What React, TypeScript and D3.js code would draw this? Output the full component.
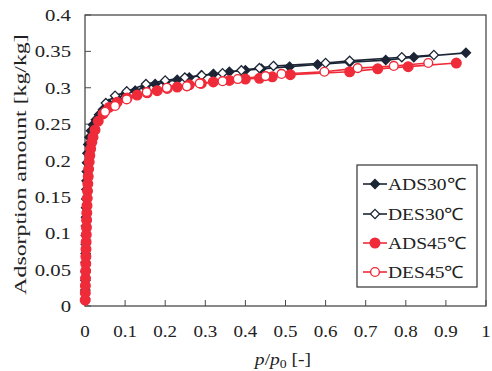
import React from "react";
import * as d3 from "d3";

// relative pressure p/p0 and uptake [kg/kg]
const ads30X = [0.0005, 0.0008, 0.001, 0.0012, 0.0014, 0.0016, 0.0018, 0.002, 0.0022, 0.0025, 0.0028, 0.0031, 0.0035, 0.004, 0.0045, 0.005, 0.006, 0.008, 0.011, 0.015, 0.02, 0.027, 0.035, 0.045, 0.06, 0.08, 0.1, 0.125, 0.15, 0.175, 0.2, 0.23, 0.26, 0.29, 0.32, 0.36, 0.4, 0.44, 0.51, 0.58, 0.66, 0.75, 0.82, 0.95];
const ads30Y = [0.01, 0.022, 0.035, 0.047, 0.06, 0.072, 0.085, 0.097, 0.11, 0.122, 0.135, 0.147, 0.16, 0.172, 0.185, 0.197, 0.21, 0.222, 0.232, 0.241, 0.249, 0.256, 0.263, 0.27, 0.278, 0.285, 0.291, 0.296, 0.301, 0.305, 0.308, 0.311, 0.314, 0.317, 0.319, 0.322, 0.324, 0.326, 0.329, 0.332, 0.335, 0.338, 0.342, 0.348];

const des30X = [0.87, 0.79, 0.66, 0.6, 0.47, 0.435, 0.39, 0.343, 0.291, 0.249, 0.2, 0.152, 0.104, 0.075, 0.052];
const des30Y = [0.345, 0.342, 0.337, 0.334, 0.33, 0.327, 0.324, 0.32, 0.317, 0.314, 0.31, 0.305, 0.295, 0.289, 0.279];

const ads45X = [0.0005, 0.0008, 0.001, 0.0013, 0.0016, 0.0019, 0.0022, 0.0025, 0.0028, 0.0032, 0.0036, 0.004, 0.0045, 0.005, 0.0056, 0.0063, 0.007, 0.008, 0.009, 0.0105, 0.012, 0.014, 0.017, 0.02, 0.025, 0.033, 0.045, 0.06, 0.08, 0.105, 0.13, 0.155, 0.18, 0.205, 0.23, 0.26, 0.29, 0.32, 0.36, 0.4, 0.435, 0.467, 0.512, 0.66, 0.73, 0.806, 0.926];
const ads45Y = [0.008, 0.018, 0.028, 0.038, 0.048, 0.058, 0.068, 0.078, 0.088, 0.098, 0.108, 0.118, 0.128, 0.138, 0.148, 0.158, 0.168, 0.178, 0.188, 0.198, 0.207, 0.216, 0.225, 0.232, 0.242, 0.254, 0.264, 0.273, 0.28, 0.286, 0.29, 0.293, 0.296, 0.299, 0.301, 0.304, 0.306, 0.308, 0.31, 0.312, 0.313, 0.315, 0.318, 0.322, 0.326, 0.329, 0.334];

const des45X = [0.856, 0.77, 0.68, 0.597, 0.49, 0.45, 0.381, 0.343, 0.286, 0.254, 0.204, 0.154, 0.104, 0.075, 0.05];
const des45Y = [0.334, 0.33, 0.327, 0.322, 0.319, 0.316, 0.312, 0.309, 0.306, 0.302, 0.3, 0.294, 0.284, 0.275, 0.267];

const xTicks = [0, 0.1, 0.2, 0.3, 0.4, 0.5, 0.6, 0.7, 0.8, 0.9, 1];
const yTicks = [0, 0.05, 0.1, 0.15, 0.2, 0.25, 0.3, 0.35, 0.4];

const DARK = "#1c2536";
const RED = "#ef2b3a";
const FONT = "Liberation Serif, Times New Roman, serif";

const series = [
  { name: "ADS30℃", xs: ads30X, ys: ads30Y, color: DARK, shape: "diamond", open: false },
  { name: "DES30℃", xs: des30X, ys: des30Y, color: DARK, shape: "diamond", open: true },
  { name: "ADS45℃", xs: ads45X, ys: ads45Y, color: RED, shape: "circle", open: false },
  { name: "DES45℃", xs: des45X, ys: des45Y, color: RED, shape: "circle", open: true },
];

const W = 492,
  H = 371;

function Marker({ cx, cy, shape, color, open }: any) {
  const fill = open ? "#fff" : color;
  if (shape === "diamond") {
    const r = 4.6;
    return (
      <path
        d={`M${cx},${cy - r}L${cx + r},${cy}L${cx},${cy + r}L${cx - r},${cy}Z`}
        fill={fill}
        stroke={color}
        strokeWidth={1.3}
      />
    );
  }
  return <circle cx={cx} cy={cy} r={open ? 4.4 : 4.8} fill={fill} stroke={color} strokeWidth={1.4} />;
}

export default function App() {
  const x = d3.scaleLinear().domain([0, 1]).range([85, 486]);
  const y = d3.scaleLinear().domain([0, 0.4]).range([306, 15]);

  const line = d3
    .line<[number, number]>()
    .x((d) => x(d[0]))
    .y((d) => y(d[1]));

  const [x0, x1] = x.range();
  const [y0, y1] = y.range();

  // legend rows
  const legY = [184, 214, 243, 272];

  return (
    <svg
      width={W}
      height={H}
      style={{ position: "absolute", left: 0, top: 0, background: "#fff", fontFamily: FONT }}
    >
      {/* frame */}
      <rect x={x0} y={y1} width={x1 - x0} height={y0 - y1} fill="none" stroke="#4a4a4a" strokeWidth={1.3} />

      {/* ticks (inward) */}
      {xTicks.map((t) => (
        <g key={"x" + t}>
          <line x1={x(t)} x2={x(t)} y1={y0} y2={y0 - 6} stroke="#4a4a4a" strokeWidth={1} />
          <text
            transform={`translate(${x(t)},337) scale(1.12,1)`}
            textAnchor="middle"
            fontSize={17}
            fill="#222"
          >
            {t}
          </text>
        </g>
      ))}
      {yTicks.map((t) => (
        <g key={"y" + t}>
          <line x1={x0} x2={x0 + 6} y1={y(t)} y2={y(t)} stroke="#4a4a4a" strokeWidth={1} />
          <text
            transform={`translate(71,${y(t) + 6}) scale(1.22,1)`}
            textAnchor="end"
            fontSize={17}
            fill="#222"
          >
            {t}
          </text>
        </g>
      ))}

      {/* axis titles */}
      <text
        transform={`translate(26,${(y0 + y1) / 2 + 4}) rotate(-90) scale(1.4,1)`}
        textAnchor="middle"
        fontSize={17}
        fill="#222"
      >
        Adsorption amount [kg/kg]
      </text>
      <text transform={`translate(283,365) scale(1.15,1)`} textAnchor="middle" fontSize={17} fill="#222">
        <tspan fontStyle="italic">p</tspan>
        <tspan>/</tspan>
        <tspan fontStyle="italic">p</tspan>
        <tspan fontSize={12} dy={3}>0</tspan>
        <tspan dy={-3}> [-]</tspan>
      </text>

      {/* series */}
      {series.map((s) => {
        const pts = s.xs.map((v, i) => [v, s.ys[i]] as [number, number]);
        return (
          <g key={s.name}>
            <path d={line(pts) || ""} fill="none" stroke={s.color} strokeWidth={1.6} />
            {pts.map((p, i) => (
              <Marker key={i} cx={x(p[0])} cy={y(p[1])} shape={s.shape} color={s.color} open={s.open} />
            ))}
          </g>
        );
      })}

      {/* legend */}
      <rect x={357} y={165} width={120} height={122} fill="#fff" stroke="#333" strokeWidth={1.2} />
      {series.map((s, i) => (
        <g key={"leg" + s.name}>
          <line x1={363} x2={387} y1={legY[i]} y2={legY[i]} stroke={s.color} strokeWidth={1.6} />
          <Marker cx={375} cy={legY[i]} shape={s.shape} color={s.color} open={s.open} />
          <text
            transform={`translate(388,${legY[i] + 6}) scale(1.15,1)`}
            fontSize={17}
            fill="#222"
          >
            {s.name}
          </text>
        </g>
      ))}
    </svg>
  );
}
